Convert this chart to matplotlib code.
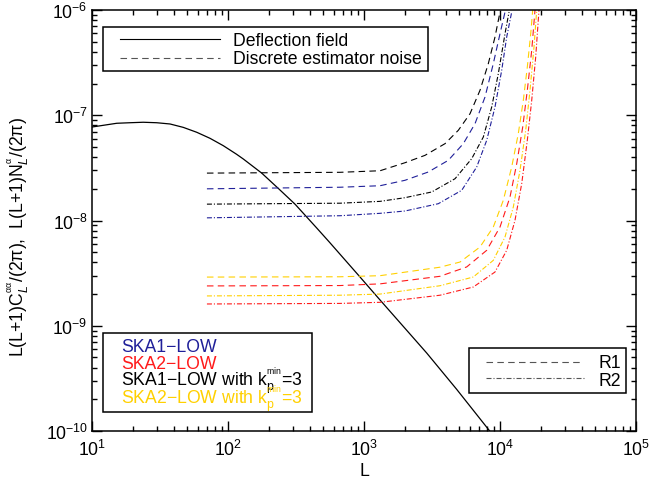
import matplotlib
matplotlib.use('Agg')
import matplotlib.pyplot as plt
from matplotlib.patches import Rectangle
from matplotlib.lines import Line2D

plt.rcParams['font.family'] = ['Liberation Sans', 'DejaVu Sans']
plt.rcParams['mathtext.fontset'] = 'custom'
plt.rcParams['mathtext.rm'] = 'Liberation Sans'
plt.rcParams['mathtext.it'] = 'Liberation Sans:italic'
plt.rcParams['mathtext.bf'] = 'Liberation Sans:bold'
plt.rcParams['lines.scale_dashes'] = False

# deflection field spectrum L(L+1)C_L/(2pi)
L_defl = [10, 15.2, 19, 23.8, 29.9, 37.5, 46.9, 58.9, 73.7, 92.3, 115.6, 129.6, 177, 238, 311,
          379, 449, 556, 923, 1253, 2890, 4800, 8400, 8650]
C_defl = [7.73e-8, 8.39e-8, 8.49e-8, 8.58e-8, 8.49e-8, 8.26e-8, 7.67e-8, 6.89e-8, 6.04e-8, 5.14e-8,
          4.26e-8, 3.84e-8, 2.82e-8, 1.98e-8, 1.43e-8, 1.08e-8, 8.49e-9, 6.24e-9, 2.96e-9, 1.88e-9,
          5.51e-10, 2.49e-10, 1.0e-10, 9.2e-11]

# discrete estimator noise, R1 = dashed, R2 = dash-dot
L_ska1_r1 = [70, 667, 1312, 2002, 2970, 4167, 5373, 6549, 7759, 8927, 10000, 10884]
N_ska1_r1 = [2.0e-8, 2.07e-8, 2.14e-8, 2.41e-8, 2.89e-8, 3.73e-8, 5.37e-8, 8.31e-8, 1.49e-7,
             3.09e-7, 5.95e-7, 9.57e-7]
L_ska1_r2 = [70, 667, 1312, 2002, 3518, 5230, 6741, 7985, 9188, 10292, 11202, 12190]
N_ska1_r2 = [1.06e-8, 1.11e-8, 1.17e-8, 1.231e-8, 1.444e-8, 1.936e-8, 3.223e-8, 5.78e-8, 1.198e-7,
             2.674e-7, 5.54e-7, 9.57e-7]

L_ska1k_r1 = [70, 667, 1312, 2002, 2809, 3941, 4936, 6018, 7128, 8204, 9188, 10000]
N_ska1k_r1 = [2.82e-8, 2.87e-8, 2.97e-8, 3.54e-8, 4.16e-8, 5.37e-8, 7.19e-8, 1.034e-7, 1.726e-7,
              3.09e-7, 5.54e-7, 9.57e-7]
L_ska1k_r2 = [70, 667, 1312, 2002, 3147, 4670, 6193, 7539, 8690, 9716, 10884, 11649]
N_ska1k_r2 = [1.43e-8, 1.46e-8, 1.52e-8, 1.647e-8, 1.866e-8, 2.495e-8, 3.866e-8, 6.21e-8, 1.198e-7,
              2.48e-7, 5.95e-7, 9.57e-7]

L_ska2_r1 = [70, 667, 1312, 3622, 5690, 7985, 10000, 11846, 13270, 14690, 15880, 17110, 18090]
N_ska2_r1 = [2.39e-9, 2.41e-9, 2.5e-9, 2.95e-9, 3.62e-9, 5.21e-9, 8.67e-9, 1.672e-8, 3.464e-8,
             7.73e-8, 1.726e-7, 4.14e-7, 1.0e-6]
L_ska2_r2 = [70, 667, 1312, 3622, 6364, 9188, 11202, 12890, 14440, 15880, 17110, 18300, 19350]
N_ska2_r2 = [1.61e-9, 1.63e-9, 1.67e-9, 1.95e-9, 2.334e-9, 3.24e-9, 5.21e-9, 1.004e-8, 2.237e-8,
             5.78e-8, 1.387e-7, 3.576e-7, 1.0e-6]

L_ska2k_r1 = [70, 667, 1312, 3622, 5080, 7128, 8927, 10576, 12190, 13630, 14840, 15880, 16820, 17400]
N_ska2k_r1 = [2.9e-9, 2.92e-9, 2.99e-9, 3.6e-9, 4.03e-9, 5.60e-9, 8.67e-9, 1.556e-8, 3.223e-8,
              6.68e-8, 1.387e-7, 2.873e-7, 5.95e-7, 1.0e-6]
L_ska2k_r2 = [70, 667, 1312, 3622, 6364, 8927, 10884, 12530, 14030, 15450, 16620, 17780, 18620]
N_ska2k_r2 = [1.92e-9, 1.95e-9, 2.0e-9, 2.4e-9, 2.905e-9, 4.184e-9, 6.97e-9, 1.343e-8, 3.0e-8,
              7.19e-8, 1.726e-7, 4.45e-7, 1.0e-6]

NAVY = '#1f1f99'
RED = '#ff1a1a'
GOLD = '#ffd000'
FS = 12.7
DASH = (0, (4.7, 3.1))
DASHDOT = (0, (3.6, 1.4, 0.8, 1.4))
LW = 0.8

fig = plt.figure(figsize=(6.51, 4.85), dpi=100)
ax = fig.add_axes([92 / 651, 53 / 485, 544 / 651, 421 / 485])

ax.plot(L_defl, C_defl, color='black', lw=0.9)

ax.plot(L_ska1k_r1, N_ska1k_r1, color='black', lw=LW, ls=DASH)
ax.plot(L_ska1_r1, N_ska1_r1, color=NAVY, lw=LW, ls=DASH)
ax.plot(L_ska1k_r2, N_ska1k_r2, color='black', lw=LW, ls=DASHDOT)
ax.plot(L_ska1_r2, N_ska1_r2, color=NAVY, lw=LW, ls=DASHDOT)

ax.plot(L_ska2k_r1, N_ska2k_r1, color=GOLD, lw=LW, ls=DASH)
ax.plot(L_ska2_r1, N_ska2_r1, color=RED, lw=LW, ls=DASH)
ax.plot(L_ska2k_r2, N_ska2k_r2, color=GOLD, lw=LW, ls=DASHDOT)
ax.plot(L_ska2_r2, N_ska2_r2, color=RED, lw=LW, ls=DASHDOT)

ax.set_xscale('log')
ax.set_yscale('log')
ax.set_xlim(10, 1e5)
ax.set_ylim(1e-10, 1e-6)

for sp in ax.spines.values():
    sp.set_linewidth(1.1)
ax.tick_params(which='both', direction='in', top=True, right=True, width=1.0, labelsize=FS)
ax.tick_params(which='major', length=7.2)
ax.tick_params(which='minor', length=3.6)
ax.tick_params(axis='x', pad=6)
ax.tick_params(axis='y', pad=3)

ax.set_xlabel('L', fontsize=FS)
ax.xaxis.set_label_coords(0.5, -0.074)
ax.set_ylabel(r'L(L+1)C$^{{}^{\mathrm{\alpha\alpha}}}_{L}$/(2π),  '
              r'L(L+1)N$^{{}^{\mathrm{\alpha}}}_{L}$/(2π)', fontsize=FS)
ax.yaxis.set_label_coords(-0.112, 0.463)


def ax_pos(px, py):
    # pixel position on the canvas -> axes fraction
    return (px - 92) / 544, (432 - py) / 421


def key_box(x0, y0, x1, y1):
    (ax0, ay1), (ax1, ay0) = ax_pos(x0, y0), ax_pos(x1, y1)
    ax.add_patch(Rectangle((ax0, ay0), ax1 - ax0, ay1 - ay0, transform=ax.transAxes,
                           facecolor='white', edgecolor='black', lw=1.1, zorder=5))


def key_line(x0, x1, y, ls, color='#555555'):
    (a0, b), (a1, _) = ax_pos(x0, y), ax_pos(x1, y)
    ax.add_line(Line2D([a0, a1], [b, b], transform=ax.transAxes, color=color,
                       lw=LW, ls=ls, zorder=6))


def key_text(x, y, s, color='black'):
    ax.text(*ax_pos(x, y), s, transform=ax.transAxes, fontsize=FS, color=color,
            va='baseline', ha='left', zorder=6)


# line style key
key_box(103, 28, 428, 72)
key_line(120, 220, 40, '-', color='black')
key_line(120, 220, 59.3, DASH)
key_text(232.7, 46, 'Deflection field')
key_text(232.7, 64, 'Discrete estimator noise')

# experiment key
KP = r'k$_\mathrm{p}^{{}^\mathrm{min}}$=3'
key_box(103, 334, 312, 413)
key_text(120.7, 351.7, 'SKA1\u2212LOW', NAVY)
key_text(120.7, 369.3, 'SKA2\u2212LOW', RED)
key_text(120.7, 386.7, 'SKA1\u2212LOW with ' + KP, 'black')
key_text(120.7, 404.2, 'SKA2\u2212LOW with ' + KP, GOLD)

# R1 / R2 key
key_box(469.3, 349.3, 626, 394)
key_line(486, 582, 362.7, DASH)
key_line(486, 584, 379.3, DASHDOT)
key_text(598.3, 368.3, 'R1')
key_text(598.3, 385.7, 'R2')

fig.savefig('out.png', dpi=100)
